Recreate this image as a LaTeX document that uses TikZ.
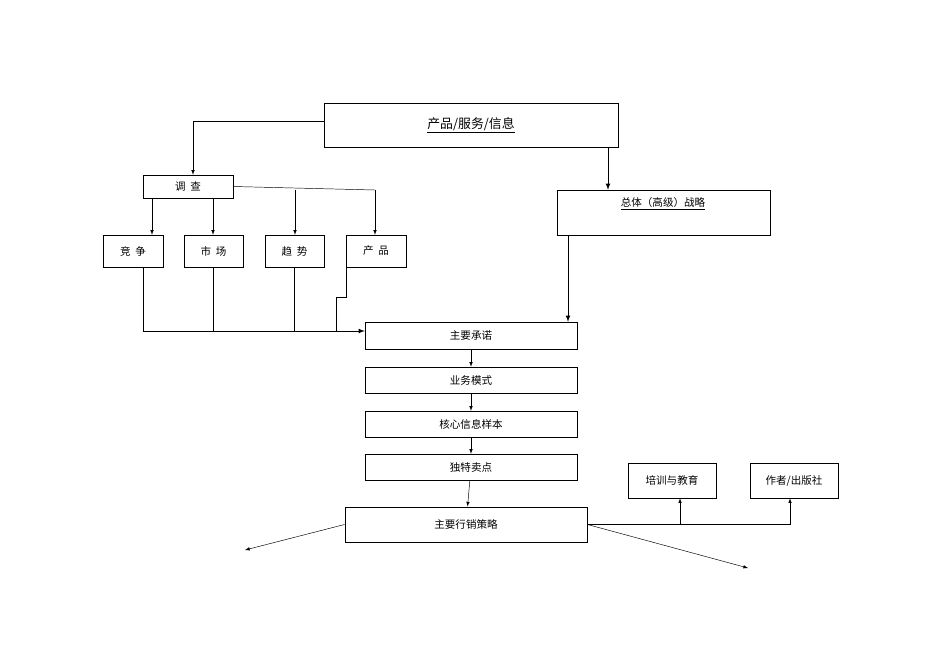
\documentclass[tikz,border=0pt]{standalone}
\usepackage{fontspec}
\setmainfont{Noto Sans CJK SC}
\usetikzlibrary{positioning, arrows}

\begin{document}
\begin{tikzpicture}[x=0.03cm,y=-0.03cm,>=latex,
	box/.style={draw,thin,inner sep=0pt,font=\fontsize{9}{10}\selectfont},
	line/.style={draw,thin},
	arr/.style={->,thin}]
	\useasboundingbox (0,0) rectangle (950,672);
	% boxes
	\node[box,minimum width=294\pgflinewidth,minimum width=8.82cm,minimum height=1.32cm] (info) at (471,125) {};
	\node[font=\fontsize{11}{12}\selectfont] (infot) at (471,125) {\underline{产品/服务/信息}};
	\node[box,minimum width=2.7cm,minimum height=0.69cm] (survey) at (188,186.5) {调\ \ 查};
	\node[box,minimum width=1.8cm,minimum height=0.96cm] (comp) at (133,251) {竞\ \ 争};
	\node[box,minimum width=1.77cm,minimum height=0.96cm] (mkt) at (213.5,251) {市\ \ 场};
	\node[box,minimum width=1.77cm,minimum height=0.96cm] (trend) at (294.5,251) {趋\ \ 势};
	\node[box,minimum width=1.8cm,minimum height=0.96cm] (prod) at (376,251) {产\ \ 品};
	\node[box,minimum width=6.39cm,minimum height=1.35cm] (strat) at (663.5,212.5) {};
	\node[font=\fontsize{9}{10}\selectfont] (stratt) at (663,204) {\underline{总体（高级）战略}};
	\node[box,minimum width=6.36cm,minimum height=0.81cm] (promise) at (471,335.5) {主要承诺};
	\node[box,minimum width=6.36cm,minimum height=0.78cm] (model) at (471,380) {业务模式};
	\node[box,minimum width=6.36cm,minimum height=0.78cm] (core) at (471,424) {核心信息样本};
	\node[box,minimum width=6.36cm,minimum height=0.78cm] (usp) at (471,467) {独特卖点};
	\node[box,thick,minimum width=7.26cm,minimum height=1.05cm] (mkting) at (466,524.5) {主要行销策略};
	\node[box,minimum width=2.64cm,minimum height=1.05cm] (train) at (672,480.5) {培训与教育};
	\node[box,minimum width=2.64cm,minimum height=1.05cm] (author) at (794,480.5) {作者/出版社};
	\coordinate (outl) at (245,550);
	\coordinate (outr) at (748,568);
	% connectors
	\draw[arr] (info.west |- 0,121) -| (survey.north -| 193,0);
	\draw[arr,thick] (info.south -| 608,0) -- (strat.north -| 608,0);
	\draw[line] (survey.east) -- (375,190);
	\draw[arr] (survey.south -| 152,0) -- (comp.north -| 152,0);
	\draw[arr] (survey.south -| 213,0) -- (mkt.north -| 213,0);
	\draw[arr] (295,190) -- (trend.north -| 295,0);
	\draw[arr] (375,190) -- (prod.north -| 375,0);
	\draw[arr,thick] (comp.south -| 143,0) -- (143,331) -- (promise.west |- 0,331);
	\draw[line] (mkt.south -| 213,0) -- (213,331);
	\draw[line] (trend.south -| 294,0) -- (294,331);
	\draw[line] (prod.south -| 346,0) -- (346,297) -- (336,297) -- (336,331);
	\draw[arr,thick] (strat.south -| 568,0) -- (promise.north -| 568,0);
	\draw[arr] (promise) -- (model);
	\draw[arr] (model) -- (core);
	\draw[arr] (core) -- (usp);
	\draw[arr] (usp) -- (mkting);
	\draw[line] (mkting.east) -- (790,524.5);
	\draw[arr] (680,524.5) -- (train.south -| 680,0);
	\draw[arr] (790,524.5) -- (author.south -| 790,0);
	\draw[arr] (mkting.west) -- (outl);
	\draw[arr] (mkting.east) -- (outr);
\end{tikzpicture}
\end{document}
